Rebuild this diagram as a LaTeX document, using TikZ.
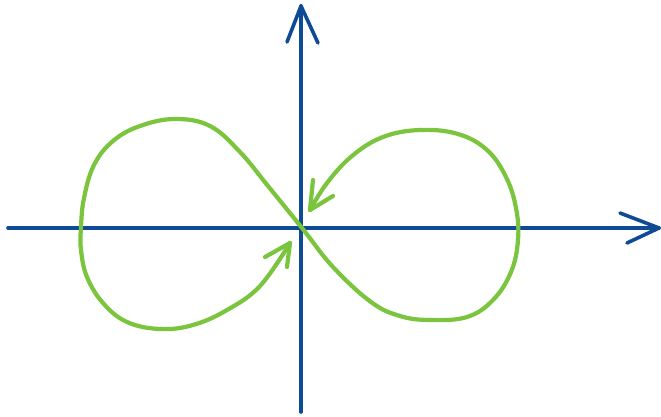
\documentclass[tikz,border=0pt]{standalone}
\definecolor{axisblue}{RGB}{14,74,150}
\definecolor{loopgreen}{RGB}{122,196,62}
\begin{document}
\begin{tikzpicture}[x=1pt,y=-1pt,
  axisline/.style={draw=axisblue,line width=3.6pt,line cap=round,line join=round},
  loopline/.style={draw=loopgreen,line width=4.2pt,line cap=round,line join=round}]
\useasboundingbox (0,0) rectangle (661,417);
% axis coordinates
\coordinate (xl) at (8,228);
\coordinate (xr) at (659,228);
\coordinate (xw1) at (620,213);
\coordinate (xw2) at (627,243);
\coordinate (yb) at (301,412);
\coordinate (yt) at (301,6);
\coordinate (yw1) at (287,42);
\coordinate (yw2) at (318,43);
% axes
\path[axisline] (xl) -- (xr);
\path[axisline] (xw1) -- (xr) -- (xw2);
\path[axisline] (yb) -- (yt);
\path[axisline] (yw1) -- (yt) -- (yw2);
% arrow coordinates on the curve
\coordinate (tipA) at (290,243);
\coordinate (tipAw1) at (265,257);
\coordinate (tipAw2) at (287,267);
\coordinate (tipB) at (310,210);
\coordinate (tipBw1) at (313,180);
\coordinate (tipBw2) at (333,196);
% figure eight
\draw[loopline] plot[smooth,tension=0.65] coordinates {
  (290,243) (260,286) (227,310) (193,325) (160,329) (127,322) (103,303)
  (87,277) (81,250) (81,227) (84,198) (94,165) (113,141) (140,126)
  (175,119) (210,126) (240,152) (268,186) (302,228) (333,267) (371,302)
  (400,316) (430,320) (467,317) (493,300) (511,272) (518,240) (516,208)
  (506,177) (487,150) (458,134) (420,130) (383,137) (352,156) (327,183)
  (310,210)};
\path[loopline] (tipAw1) -- (tipA) -- (tipAw2);
\path[loopline] (tipBw1) -- (tipB) -- (tipBw2);
\end{tikzpicture}
\end{document}
